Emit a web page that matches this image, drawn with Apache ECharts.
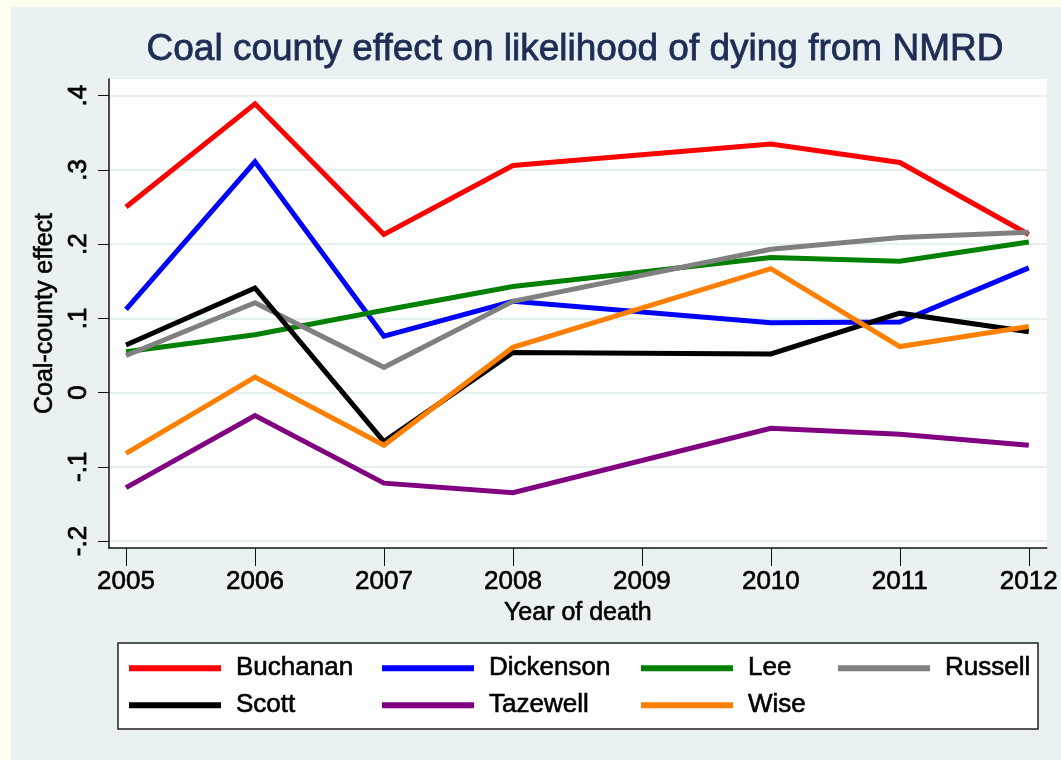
<!DOCTYPE html>
<html>
<head>
<meta charset="utf-8">
<script src="https://cdn.jsdelivr.net/npm/echarts@6/dist/echarts.min.js"></script>
<style>
  html, body { margin: 0; padding: 0; background: #fffff2; width: 1061px; height: 760px; overflow: hidden; }
  #chart { position: absolute; left: 11px; top: 7px; width: 1050px; height: 753px; }
</style>
</head>
<body>
<div id="chart"></div>
<script>
// Years with estimates (no 2009 estimate; lines join 2008 to 2010)
const years = [2005, 2006, 2007, 2008, 2010, 2011, 2012];
const xTickValues = [2005, 2006, 2007, 2008, 2009, 2010, 2011, 2012];
const yTickValues = [-0.2, -0.1, 0, 0.1, 0.2, 0.3, 0.4];

const counties = ['Buchanan', 'Dickenson', 'Lee', 'Russell', 'Scott', 'Tazewell', 'Wise'];
const buchanan  = [0.250, 0.389, 0.213, 0.306, 0.335, 0.310, 0.213];
const dickenson = [0.112, 0.311, 0.076, 0.123, 0.094, 0.095, 0.168];
const lee       = [0.055, 0.078, 0.111, 0.143, 0.182, 0.177, 0.203];
const russell   = [0.050, 0.121, 0.034, 0.123, 0.193, 0.209, 0.216];
const scott     = [0.064, 0.141, -0.066, 0.054, 0.052, 0.107, 0.082];
const tazewell  = [-0.128, -0.031, -0.122, -0.135, -0.048, -0.056, -0.071];
const wise      = [-0.082, 0.021, -0.071, 0.061, 0.167, 0.062, 0.089];
const countyValues = [buchanan, dickenson, lee, russell, scott, tazewell, wise];
const countyColors = ['#ff0000', '#0000ff', '#008000', '#808080', '#000000', '#800080', '#ff8000'];

const FONT = '"Liberation Sans", Arial, sans-serif';
// slightly heavier glyphs: thin outline in the text colour
const heavy = (color, w) => ({ color: color, textBorderColor: color, textBorderWidth: w });

const series = counties.map((name, i) => ({
  name: name,
  type: 'line',
  symbol: 'none',
  data: years.map((y, j) => [y, countyValues[i][j]]),
  lineStyle: { color: countyColors[i], width: 5, cap: 'butt', join: 'miter' },
  itemStyle: { color: countyColors[i] },
  z: 2 + i
}));

// legend layout: one legend block per entry (column x, row y)
const legendSlots = [
  [118, 0], [371, 0], [630, 0], [827, 0],
  [118, 1], [371, 1], [630, 1]
];
const legends = counties.map((name, i) => ({
  data: [name],
  left: legendSlots[i][0],
  top: legendSlots[i][1] === 0 ? 648 : 685,
  icon: 'rect',
  itemWidth: 92,
  itemHeight: 6,
  padding: 0,
  selectedMode: false,
  textStyle: Object.assign({ fontFamily: FONT, fontSize: 26, padding: [0, 0, 0, 10] }, heavy('#000', 0.6))
}));

const chart = echarts.init(document.getElementById('chart'), null, { renderer: 'canvas' });
chart.setOption({
  backgroundColor: '#e9f1f3',
  animation: false,
  title: {
    text: 'Coal county effect on likelihood of dying from NMRD',
    left: 564,
    top: 24,
    textAlign: 'center',
    padding: 0,
    textStyle: Object.assign({ fontFamily: FONT, fontSize: 37, fontWeight: 'normal' }, heavy('#1f2d55', 0.8))
  },
  graphic: [{
    type: 'rect',
    shape: { x: 107, y: 636, width: 920, height: 86 },
    style: { fill: '#ffffff', stroke: '#222222', lineWidth: 1.5 },
    z: 0
  }],
  legend: legends,
  grid: {
    left: 98, right: 13, top: 72, bottom: 212,
    show: true, backgroundColor: '#ffffff', borderWidth: 0
  },
  xAxis: {
    type: 'value',
    min: 2004.868,
    max: 2012.139,
    name: 'Year of death',
    nameLocation: 'middle',
    nameGap: 50,
    nameTextStyle: Object.assign({ fontFamily: FONT, fontSize: 25 }, heavy('#000', 0.6)),
    axisLine: { show: true, onZero: false, lineStyle: { color: '#111', width: 1.5 } },
    axisTick: { show: true, length: 18, customValues: xTickValues, lineStyle: { color: '#111', width: 1 } },
    axisLabel: Object.assign({
      customValues: xTickValues,
      margin: 21,
      fontFamily: FONT, fontSize: 26,
      formatter: v => String(v)
    }, heavy('#000', 0.6)),
    splitLine: { show: false }
  },
  yAxis: {
    type: 'value',
    min: -0.2094,
    max: 0.4225,
    name: 'Coal-county effect',
    nameLocation: 'middle',
    nameGap: 40,
    nameTextStyle: Object.assign({ fontFamily: FONT, fontSize: 25 }, heavy('#000', 0.6)),
    axisLine: { show: true, onZero: false, lineStyle: { color: '#111', width: 1.5 } },
    axisTick: { show: true, length: 11, customValues: yTickValues, lineStyle: { color: '#111', width: 1 } },
    axisLabel: Object.assign({
      customValues: yTickValues,
      rotate: 90,
      margin: 17,
      fontFamily: FONT, fontSize: 26,
      formatter: v => (Math.abs(v) < 1e-9 ? '0' : String(+v.toFixed(1)).replace('0.', '.'))
    }, heavy('#000', 0.8)),
    splitLine: { show: true, lineStyle: { color: '#e6eff2', width: 2 } }
  },
  series: series
});
</script>
</body>
</html>
